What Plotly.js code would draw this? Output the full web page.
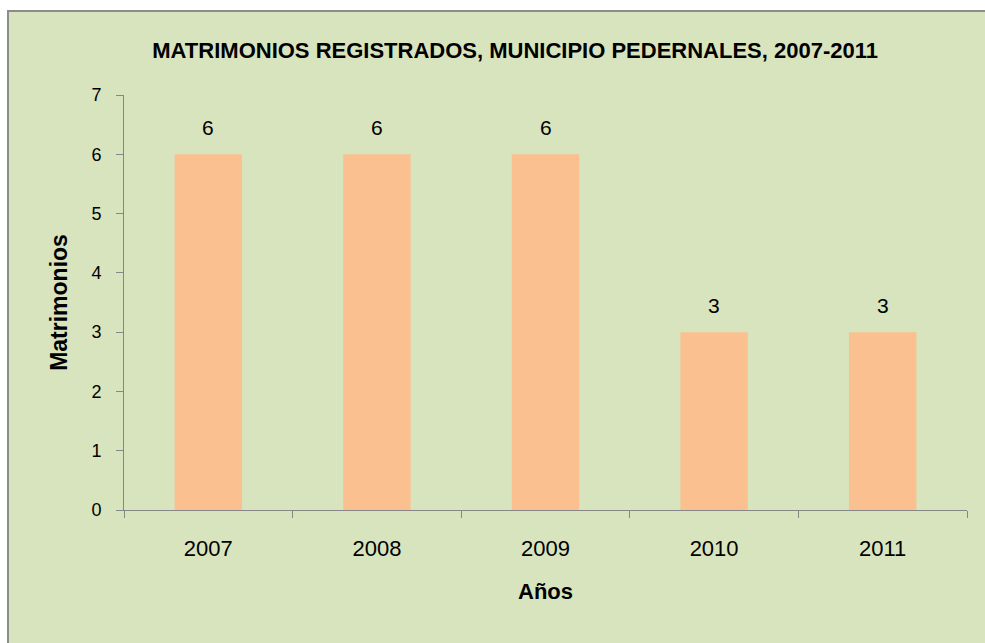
<!DOCTYPE html>
<html>
<head>
<meta charset="utf-8">
<script src="https://cdn.plot.ly/plotly-3.0.1.min.js"></script>
<style>html,body{margin:0;padding:0;background:#fff;}#chart{width:985px;height:643px;}</style>
</head>
<body>
<div id="chart"></div>
<script>
var years = ["2007", "2008", "2009", "2010", "2011"];
var marriages = [6, 6, 6, 3, 3];
var yTicks = [0, 1, 2, 3, 4, 5, 6, 7];

var FONT = '"Liberation Sans", Arial, sans-serif';

var trace = {
  type: 'bar',
  x: years,
  y: marriages,
  width: 0.4,
  marker: {color: '#fac090', line: {width: 0}},
  hoverinfo: 'none'
};

// data labels: x given as category index on the category axis
var labels = years.map(function (yr, i) {
  return {
    x: i, y: marriages[i], xref: 'x', yref: 'y',
    text: String(marriages[i]), showarrow: false,
    yanchor: 'bottom', yshift: 13,
    font: {family: FONT, size: 21, color: '#000'}
  };
});

var layout = {
  width: 985, height: 643,
  margin: {l: 124, r: 18, t: 95, b: 133},
  paper_bgcolor: '#ffffff',
  plot_bgcolor: 'rgba(0,0,0,0)',
  showlegend: false,
  title: {
    text: '<b>MATRIMONIOS REGISTRADOS, MUNICIPIO PEDERNALES, 2007-2011</b>',
    font: {family: FONT, size: 22, color: '#000'},
    x: 0.523, xanchor: 'center', y: 0.922, yanchor: 'middle'
  },
  xaxis: {
    type: 'category',
    categoryorder: 'array', categoryarray: years,
    range: [-0.5, years.length - 0.5],
    tickson: 'boundaries',
    tickangle: 0,
    ticks: 'outside', ticklen: 7, tickcolor: '#868686', tickwidth: 1,
    ticklabelstandoff: 19,
    showline: true, linecolor: '#868686', linewidth: 1,
    showgrid: false, zeroline: false,
    tickfont: {family: FONT, size: 22, color: '#000'},
    title: {text: '<b>Años</b>', font: {family: FONT, size: 22, color: '#000'}, standoff: 23}
  },
  yaxis: {
    range: [0, 7],
    tickvals: yTicks,
    ticks: 'outside', ticklen: 7, tickcolor: '#868686', tickwidth: 1,
    ticklabelstandoff: 11,
    showline: true, linecolor: '#868686', linewidth: 1,
    showgrid: false, zeroline: false,
    tickfont: {family: FONT, size: 18, color: '#000'},
    title: {text: '<b>Matrimonios</b>', font: {family: FONT, size: 23, color: '#000'}, standoff: 17}
  },
  annotations: labels,
  shapes: [{
    type: 'rect', xref: 'paper', yref: 'paper', layer: 'below',
    x0: (8 - 124) / 843, x1: (990 - 124) / 843,
    y0: (510 - 650) / 415, y1: (510 - 11) / 415,
    fillcolor: '#d8e4bd',
    line: {color: '#8c8c8c', width: 2}
  }]
};

Plotly.newPlot('chart', [trace], layout, {displayModeBar: false, staticPlot: true});
</script>
</body>
</html>
